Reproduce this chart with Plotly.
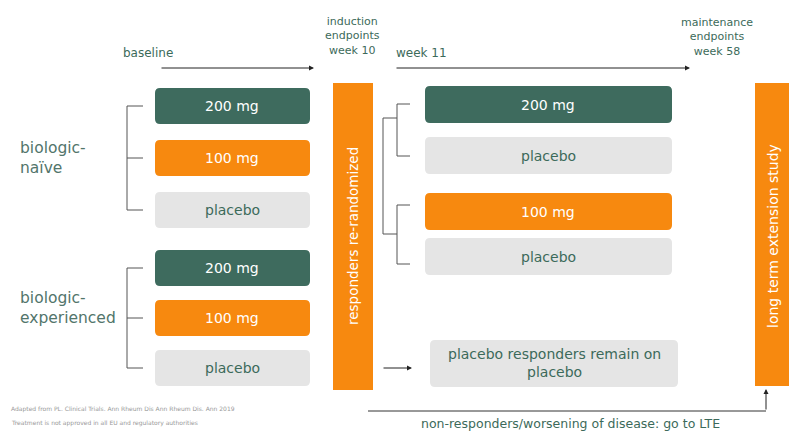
import plotly.graph_objects as go

W, H = 797, 434
OFF = 8  # page body margin compensation
GREEN = "#3e6b5e"
ORANGE = "#f7890f"
GREY = "#e5e5e5"
TXT = "#3c6a5a"
LAB = "#52756b"
FONT = "DejaVu Sans"

# ---- data (diagram content) ----
timeline_labels = ["baseline", "induction<br>endpoints<br>week 10", "week 11", "maintenance<br>endpoints<br>week 58"]
populations = ["biologic-<br>naïve", "biologic-<br>experienced"]
induction_arms = ["200 mg", "100 mg", "placebo"]
maintenance_arms = ["200 mg", "placebo", "100 mg", "placebo"]
rerand_label = "responders re-randomized"
lte_label = "long term extension study"
placebo_resp_label = "placebo responders remain on<br>placebo"
nonresp_label = "non-responders/worsening of disease: go to LTE"
footnotes = ["Adapted from PL. Clinical Trials. Ann Rheum Dis Ann Rheum Dis. Ann 2019",
             "Treatment is not approved in all EU and regulatory authorities"]

arm_colors = {"200 mg": GREEN, "100 mg": ORANGE, "placebo": GREY}
arm_text = {"200 mg": "white", "100 mg": "white", "placebo": TXT}

fig = go.Figure()
shapes = []
ann = []


def rrect(x0, y0, x1, y1, color, r=5):
    p = (f"M{x0+r},{y0} L{x1-r},{y0} Q{x1},{y0} {x1},{y0+r} L{x1},{y1-r} Q{x1},{y1} {x1-r},{y1} "
         f"L{x0+r},{y1} Q{x0},{y1} {x0},{y1-r} L{x0},{y0+r} Q{x0},{y0} {x0+r},{y0} Z")
    shapes.append(dict(type="path", path=p, fillcolor=color, line=dict(width=0), layer="below",
                       xref="x", yref="y"))


def line(x0, y0, x1, y1, color="#333333", w=1):
    shapes.append(dict(type="line", x0=x0, y0=y0, x1=x1, y1=y1, line=dict(color=color, width=w),
                       xref="x", yref="y"))


def text(x, y, s, size=11, color=TXT, angle=0, xanchor="center", align="center"):
    ann.append(dict(x=x, y=y, text=s, showarrow=False, font=dict(family=FONT, size=size, color=color),
                    textangle=angle, xanchor=xanchor, yanchor="middle", align=align,
                    xref="x", yref="y"))


def arrow(x0, y0, x1, y1):
    ann.append(dict(x=x1, y=y1, ax=x0, ay=y0, axref="x", ayref="y", xref="x", yref="y", text="",
                    showarrow=True, arrowhead=2, arrowsize=1, arrowwidth=1, arrowcolor="#222222",
                    standoff=0))


# timeline
text(148, 53, timeline_labels[0], size=12)
arrow(160, 68, 314, 68)
text(352, 36, timeline_labels[1], size=11)
text(421, 53, timeline_labels[2], size=12)
arrow(395, 68, 690, 68)
text(717, 37, timeline_labels[3], size=11)

# induction boxes
ind_tops = [[88, 140, 192], [250, 300, 350]]
for g, tops in enumerate(ind_tops):
    for arm, t in zip(induction_arms, tops):
        rrect(155, t, 310, t + 36, arm_colors[arm])
        text(232, t + 18, arm, size=14, color=arm_text[arm])
    yt, yb = tops[0] + 18, tops[2] + 18
    ym = tops[1] + 18
    line(127, yt, 127, yb, "#555555")
    for yy in (yt, ym, yb):
        line(127, yy, 143, yy, "#555555")

text(18, 158, populations[0], size=15.5, color=LAB, xanchor="left", align="left")
text(18, 308, populations[1], size=15.5, color=LAB, xanchor="left", align="left")

# re-randomization bar
shapes.append(dict(type="rect", x0=333, y0=83, x1=373, y1=390, fillcolor=ORANGE, line=dict(width=0),
                   xref="x", yref="y"))
text(353, 236, rerand_label, size=13.5, color="white", angle=-90)

# maintenance tree
line(383, 118, 383, 234, "#555555")
line(383, 118, 397, 118, "#555555")
line(383, 234, 397, 234, "#555555")
for a, b in ((104, 156), (205, 264)):
    line(397, a, 397, b, "#555555")
    line(397, a, 410, a, "#555555")
    line(397, b, 410, b, "#555555")

mt_tops = [86, 137, 193, 238]
for arm, t in zip(maintenance_arms, mt_tops):
    rrect(425, t, 672, t + 37, arm_colors[arm])
    text(548, t + 18.5, arm, size=14, color=arm_text[arm])

rrect(430, 340, 678, 387, GREY)
text(554, 363, placebo_resp_label, size=14, color=TXT)
arrow(382, 368, 412, 368)

# LTE bar
shapes.append(dict(type="rect", x0=755, y0=83, x1=791, y1=386, fillcolor=ORANGE, line=dict(width=0),
                   xref="x", yref="y"))
text(773, 236, lte_label, size=14, color="white", angle=-90)

# non-responder path
line(368, 411, 766, 411, "#333333")
arrow(766, 411, 766, 389)
text(570, 423, nonresp_label, size=12.5, color=TXT)

# footnotes
text(9, 409, footnotes[0], size=6, color="#999999", xanchor="left", align="left")
text(9, 423, footnotes[1], size=6, color="#999999", xanchor="left", align="left")

fig.update_layout(
    width=W - OFF, height=H - OFF, margin=dict(l=0, r=0, t=0, b=0),
    paper_bgcolor="white", plot_bgcolor="white",
    xaxis=dict(range=[OFF, W], visible=False, fixedrange=True),
    yaxis=dict(range=[H, OFF], visible=False, fixedrange=True),
    shapes=shapes, annotations=ann, showlegend=False,
)
fig.write_html("out.html")
